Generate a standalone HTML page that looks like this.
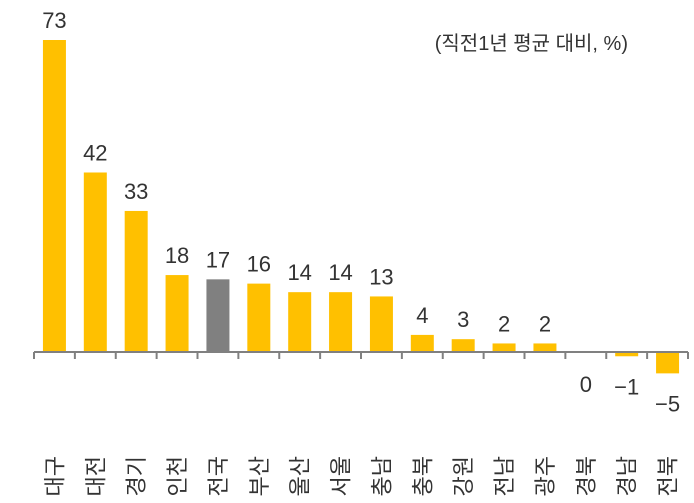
<!DOCTYPE html>
<html><head><meta charset="utf-8"><style>
body{margin:0;background:#fff;}
svg{display:block;font-family:"Liberation Sans","Noto Sans CJK KR",sans-serif;}
</style></head><body>
<svg id="chart" width="694" height="503" viewBox="0 0 694 503">
<text x="628" y="50" text-anchor="end" font-size="20" fill="#333">(직전1년 평균 대비, %)</text>
<g id="bars"></g>
<g id="axis"></g>
</svg>
<script>
const categories=["대구","대전","경기","인천","전국","부산","울산","서울","충남","충북","강원","전남","광주","경북","경남","전북"];
const values=[73,42,33,18,17,16,14,14,13,4,3,2,2,0,-1,-5];
const labels=["73","42","33","18","17","16","14","14","13","4","3","2","2","0","−1","−5"];
const highlight=["전국"];
const ns="http://www.w3.org/2000/svg";
const x0=34,x1=688,y0=352,k=312/73;
const bw=(x1-x0)/categories.length;
const xs=i=>x0+bw*(i+0.5);
const ys=v=>y0-v*k;
const bars=document.getElementById('bars'),axis=document.getElementById('axis');
function mk(t,a,p){const e=document.createElementNS(ns,t);for(const key in a)e.setAttribute(key,a[key]);p.appendChild(e);return e;}
categories.forEach((c,i)=>{
  const v=values[i],top=Math.min(ys(v),y0),h=Math.abs(ys(v)-y0);
  const r=mk('rect',{x:xs(i)-11.5,y:top,width:23,height:Math.max(h,v===0?0:1.5),fill:highlight.includes(c)?'#808080':'#FFC000'},bars);
  
  
  const ly=v>0?ys(v)-12:(v===0?y0+40:Math.max(ys(v)+38,y0+40));
  const t=mk('text',{x:xs(i),y:ly,'text-anchor':'middle','font-size':22,fill:'#333'},bars);
  t.textContent=labels[i];
  
  
  const cl=mk('text',{transform:`translate(${xs(i)+8},456) rotate(-90)`,'text-anchor':'end','font-size':22,fill:'#333'},axis);
  cl.textContent=c;
  
  
});
const ln=mk('line',{x1:x0,x2:x1,y1:y0,y2:y0,stroke:'#808080','stroke-width':2},axis);


for(let i=0;i<=categories.length;i++){
  const tk=mk('line',{x1:x0+bw*i,x2:x0+bw*i,y1:y0,y2:y0+7,stroke:'#808080','stroke-width':2},axis);
  
  
}
</script>
</body></html>
